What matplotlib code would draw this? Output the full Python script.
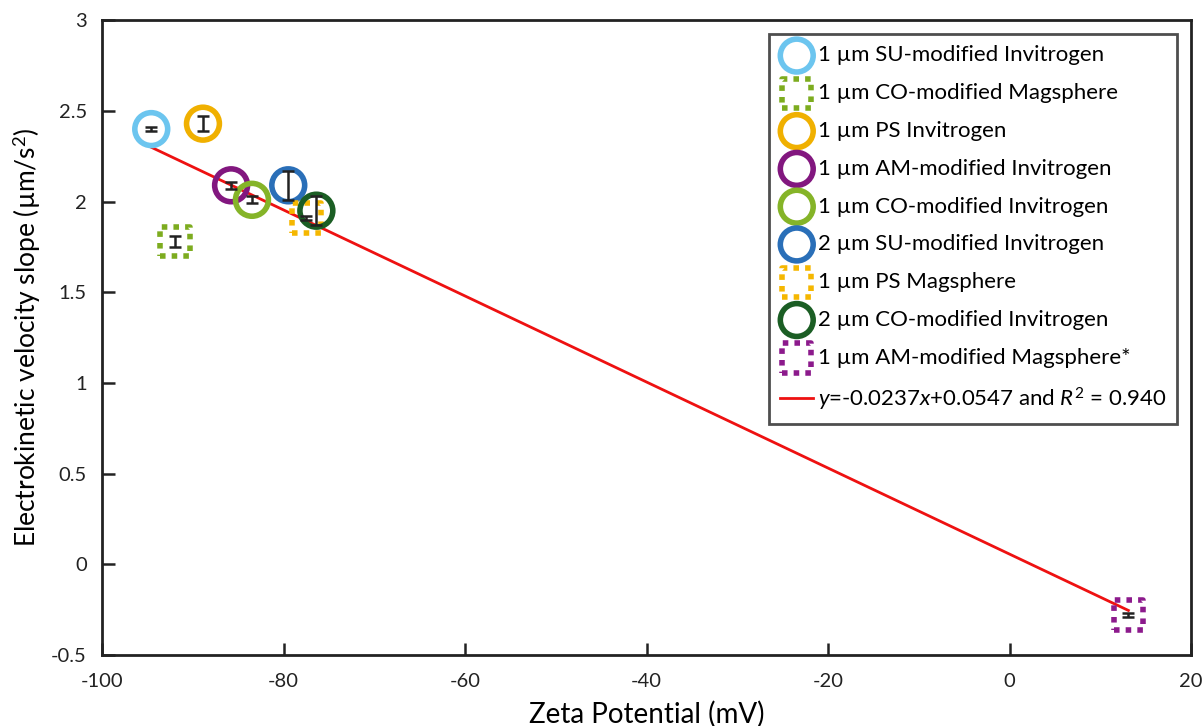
import matplotlib
matplotlib.use("Agg")
import matplotlib.pyplot as plt

plt.rcParams['font.family'] = ['Lato', 'DejaVu Sans']
plt.rcParams['axes.unicode_minus'] = False
plt.rcParams['mathtext.fontset'] = 'custom'
plt.rcParams['mathtext.it'] = 'Lato:italic'
plt.rcParams['mathtext.rm'] = 'Lato'

# data
labels = [
    "1 µm SU-modified Invitrogen",
    "1 µm CO-modified Magsphere",
    "1 µm PS Invitrogen",
    "1 µm AM-modified Invitrogen",
    "1 µm CO-modified Invitrogen",
    "2 µm SU-modified Invitrogen",
    "1 µm PS Magsphere",
    "2 µm CO-modified Invitrogen",
    "1 µm AM-modified Magsphere*",
]
zeta = [-94.6, -92.0, -88.9, -85.8, -83.5, -79.5, -77.5, -76.4, 13.1]
slope = [2.40, 1.78, 2.43, 2.09, 2.01, 2.09, 1.91, 1.95, -0.28]
slope_err = [0.01, 0.03, 0.04, 0.02, 0.02, 0.08, 0.01, 0.08, 0.01]
colors = ["#6cc5ef", "#7dac1f", "#f0b000", "#82177f", "#85b428",
          "#2a6fb8", "#f5b700", "#1b5e24", "#8c1a8c"]
markers = ["o", "s", "o", "o", "o", "o", "s", "o", "s"]

fit_x = [-94.6, 13.1]
fit_y = [2.3, -0.255]
fit_label = "$y$=-0.0237$x$+0.0547 and $R^2$ = 0.940"

fig = plt.figure(figsize=(12.03, 7.26), dpi=100)
ax = fig.add_axes([0.085, 0.098, 0.905, 0.874])

for x, y, e, c, m, lab in zip(zeta, slope, slope_err, colors, markers, labels):
    if m == "o":
        ax.scatter(x, y, s=560, marker="o", facecolors="none", edgecolors=c,
                   linewidths=4, label=lab, zorder=3)
    else:
        ax.scatter(x, y, s=450, marker="s", facecolors="none", edgecolors=c,
                   linewidths=4, linestyle=(0, (1, 1.1)), label=lab, zorder=3)
    ax.errorbar(x, y, yerr=e, fmt="none", ecolor="#222222", elinewidth=1.8,
                capsize=4, capthick=1.8, zorder=4)

ax.plot(fit_x, fit_y, color="#ee1111", lw=2, label=fit_label, zorder=2)

ax.set_xlim(-100, 20)
ax.set_ylim(-0.5, 3)
ax.set_xticks([-100, -80, -60, -40, -20, 0, 20])
ax.set_yticks([-0.5, 0, 0.5, 1, 1.5, 2, 2.5, 3])
ax.set_yticklabels(["-0.5", "0", "0.5", "1", "1.5", "2", "2.5", "3"])
ax.tick_params(direction="in", length=9, width=1.8, labelsize=14.5,
               colors="#222222", pad=11)
ax.tick_params(axis="x", pad=13)
for sp in ax.spines.values():
    sp.set_linewidth(2)
    sp.set_color("#222222")

ax.set_xlabel("Zeta Potential (mV)", fontsize=20, labelpad=8)
ax.set_ylabel("Electrokinetic velocity slope (µm/s$^2$)", fontsize=19, labelpad=6)

leg = ax.legend(loc="upper right", bbox_to_anchor=(0.9875, 0.978), fontsize=16,
                scatterpoints=1, frameon=True, fancybox=False, edgecolor="#222222",
                handlelength=1.5, handletextpad=0.2, labelspacing=0.8,
                borderpad=0.5, borderaxespad=0)
leg.get_frame().set_linewidth(2)

fig.savefig("out.png", dpi=100)
